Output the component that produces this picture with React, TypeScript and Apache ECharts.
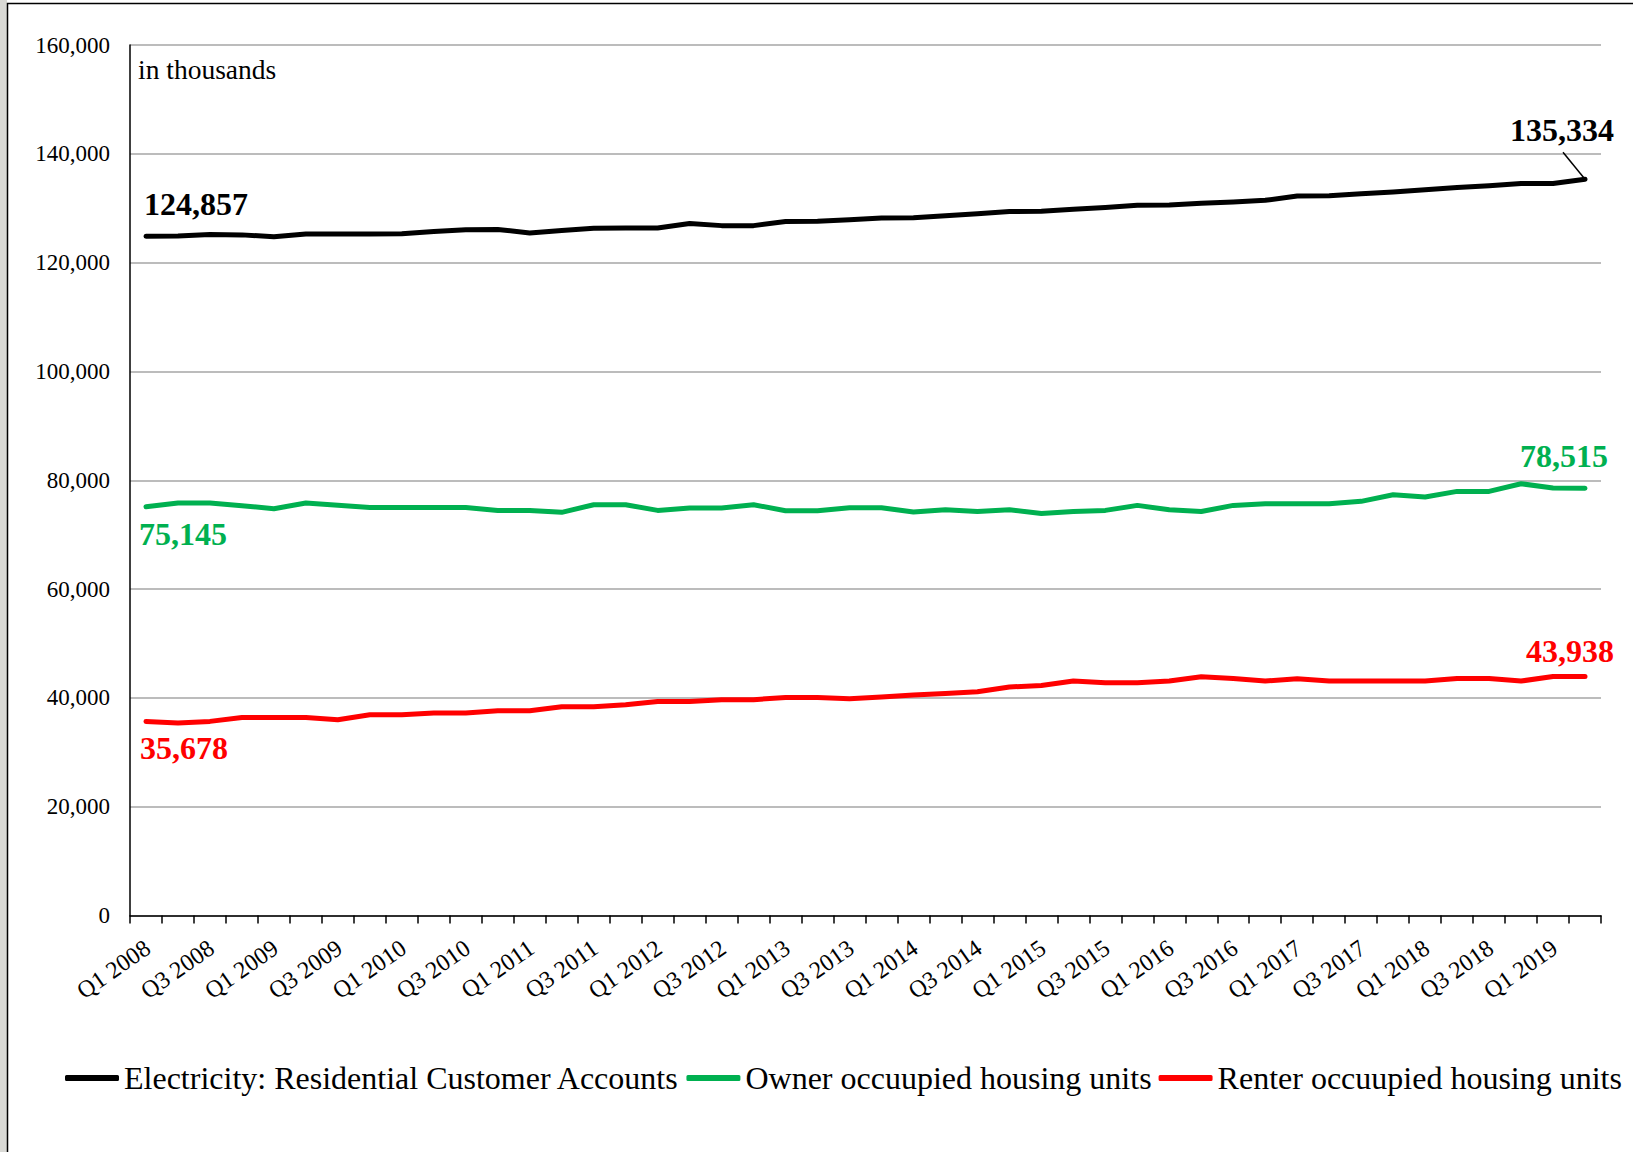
import React, { useEffect, useRef } from "react";
import * as echarts from "echarts";

const QUARTERS = [
  "Q1 2008", "Q2 2008", "Q3 2008", "Q4 2008",
  "Q1 2009", "Q2 2009", "Q3 2009", "Q4 2009",
  "Q1 2010", "Q2 2010", "Q3 2010", "Q4 2010",
  "Q1 2011", "Q2 2011", "Q3 2011", "Q4 2011",
  "Q1 2012", "Q2 2012", "Q3 2012", "Q4 2012",
  "Q1 2013", "Q2 2013", "Q3 2013", "Q4 2013",
  "Q1 2014", "Q2 2014", "Q3 2014", "Q4 2014",
  "Q1 2015", "Q2 2015", "Q3 2015", "Q4 2015",
  "Q1 2016", "Q2 2016", "Q3 2016", "Q4 2016",
  "Q1 2017", "Q2 2017", "Q3 2017", "Q4 2017",
  "Q1 2018", "Q2 2018", "Q3 2018", "Q4 2018",
  "Q1 2019", "Q2 2019",
];

const ELECTRICITY = [
  124857, 124900, 125150, 125100, 124750, 125250, 125250, 125250,
  125300, 125700, 126050, 126100, 125450, 125900, 126300, 126350,
  126350, 127200, 126800, 126800, 127550, 127600, 127900, 128200,
  128250, 128600, 129000, 129400, 129450, 129800, 130150, 130550,
  130600, 130900, 131150, 131450, 132250, 132300, 132650, 133000,
  133400, 133800, 134150, 134550, 134550, 135334,
];

const OWNER = [
  75145, 75810, 75810, 75320, 74770, 75810, 75410, 75000,
  75000, 75000, 75000, 74460, 74460, 74100, 75500, 75500,
  74460, 74900, 74900, 75500, 74400, 74400, 74950, 74950,
  74160, 74590, 74270, 74590, 73870, 74260, 74460, 75380,
  74590, 74270, 75380, 75690, 75690, 75690, 76120, 77340,
  76910, 77950, 77950, 79360, 78570, 78515,
];

const RENTER = [
  35678, 35370, 35680, 36410, 36410, 36410, 35980, 36900,
  36900, 37210, 37210, 37640, 37640, 38370, 38370, 38740,
  39350, 39350, 39660, 39660, 40090, 40090, 39840, 40180,
  40520, 40820, 41130, 41990, 42290, 43090, 42780, 42780,
  43090, 43890, 43580, 43090, 43520, 43090, 43090, 43090,
  43090, 43580, 43580, 43090, 43938, 43938,
];

const SERIES_NAMES = [
  "Electricity: Residential Customer Accounts",
  "Owner occuupied housing units",
  "Renter occuupied housing units",
];
const SERIES_COLORS = ["#000000", "#00b050", "#ff0000"];

const Y_MIN = 0;
const Y_MAX = 160000;
const Y_INTERVAL = 20000;

const FONT = "'Liberation Serif', 'Times New Roman', serif";

const fmt = (v: number) => v.toLocaleString("en-US");

// label offsets (label centre relative to the point) for the first and last points
const LABEL_OFFSETS: Record<number, { first: number[]; last: number[] }> = {
  0: { first: [50, -32], last: [-23, -49] },
  1: { first: [37, 27], last: [-21, -32] },
  2: { first: [38, 27], last: [-15, -25] },
};

function buildData(values: number[], sIdx: number) {
  const color = SERIES_COLORS[sIdx];
  const last = values.length - 1;
  return values.map((v, i) => {
    if (i !== 0 && i !== last) return v;
    const off = i === 0 ? LABEL_OFFSETS[sIdx].first : LABEL_OFFSETS[sIdx].last;
    return {
      value: v,
      label: {
        show: true,
        position: "inside",
        offset: off,
        align: "center",
        verticalAlign: "middle",
        formatter: (p: any) => fmt(p.value),
        fontFamily: FONT,
        fontWeight: "bold",
        fontSize: 32,
        color,
      },
    };
  });
}

function makeSeries(name: string, values: number[], sIdx: number) {
  const color = SERIES_COLORS[sIdx];
  return {
    name,
    type: "line",
    data: buildData(values, sIdx),
    symbol: "circle",
    symbolSize: 1,
    showSymbol: true,
    smooth: false,
    lineStyle: { color, width: 5, cap: "round", join: "round" },
    itemStyle: { color },
    emphasis: { disabled: true },
    label: { show: false },
    z: 3 + sIdx,
  };
}

function baseGraphics() {
  return [
    {
      id: "leftStrip",
      type: "rect",
      shape: { x: 0, y: 0, width: 7, height: 1152 },
      style: { fill: "#d9d9d5" },
      silent: true,
      z: -10,
    },
    {
      id: "frame",
      type: "rect",
      shape: { x: 7.5, y: 3.5, width: 2000, height: 2000 },
      style: { fill: "none", stroke: "#000", lineWidth: 1.5 },
      silent: true,
      z: -5,
    },
    {
      id: "unitNote",
      type: "text",
      x: 138,
      y: 69,
      style: {
        text: "in thousands",
        fontFamily: FONT,
        fontSize: 27.5,
        fill: "#000",
        verticalAlign: "middle",
        align: "left",
      },
      silent: true,
    },
  ];
}

export default function App() {
  const ref = useRef<HTMLDivElement>(null);

  useEffect(() => {
    if (!ref.current) return;
    const chart = echarts.init(ref.current, null, { renderer: "svg" });
    const option: any = {
      animation: false,
      backgroundColor: "#ffffff",
      grid: { left: 130, right: 32, top: 45, bottom: 236.5, containLabel: false },
      legend: {
        show: true,
        left: 60,
        top: 1057,
        width: 1620,
        itemWidth: 54,
        itemHeight: 6,
        itemGap: 7,
        icon: "roundRect",
        selectedMode: false,
        textStyle: { fontFamily: FONT, fontSize: 32, color: "#000" },
        data: SERIES_NAMES,
      },
      xAxis: {
        type: "category",
        data: QUARTERS,
        boundaryGap: true,
        axisLine: { show: true, lineStyle: { color: "#000", width: 1.5 } },
        axisTick: {
          show: true,
          interval: 0,
          length: 8,
          lineStyle: { color: "#000", width: 1.5 },
        },
        axisLabel: {
          interval: 1,
          rotate: 35,
          margin: 31,
          padding: [0, -2, 0, 0],
          fontFamily: FONT,
          fontSize: 24,
          color: "#000",
        },
        splitLine: { show: false },
      },
      yAxis: {
        type: "value",
        min: Y_MIN,
        max: Y_MAX,
        interval: Y_INTERVAL,
        axisLine: { show: true, lineStyle: { color: "#000", width: 1.5 } },
        axisTick: { show: false },
        axisLabel: {
          margin: 20,
          fontFamily: FONT,
          fontSize: 23,
          color: "#000",
          formatter: (v: number) => fmt(v),
        },
        splitLine: { show: true, lineStyle: { color: "#a6a6a6", width: 1.5 } },
      },
      series: [
        makeSeries(SERIES_NAMES[0], ELECTRICITY, 0),
        makeSeries(SERIES_NAMES[1], OWNER, 1),
        makeSeries(SERIES_NAMES[2], RENTER, 2),
      ],
      graphic: baseGraphics(),
    };
    chart.setOption(option);

    // leader line for the last electricity label, placed through the chart's own scales
    const lastIdx = ELECTRICITY.length - 1;
    const p = chart.convertToPixel({ seriesIndex: 0 }, [lastIdx, ELECTRICITY[lastIdx]]) as number[];
    if (p && isFinite(p[0]) && isFinite(p[1])) {
      chart.setOption({
        graphic: [
          ...baseGraphics(),
          {
            id: "leader",
            type: "line",
            shape: { x1: p[0] - 22, y1: p[1] - 27, x2: p[0], y2: p[1] },
            style: { stroke: "#000", lineWidth: 1.5 },
            silent: true,
            z: 10,
          },
        ],
      });
    }

    return () => chart.dispose();
  }, []);

  return (
    <div
      ref={ref}
      style={{
        position: "fixed",
        left: 0,
        top: 0,
        width: 1633,
        height: 1152,
        background: "#fff",
      }}
    />
  );
}
